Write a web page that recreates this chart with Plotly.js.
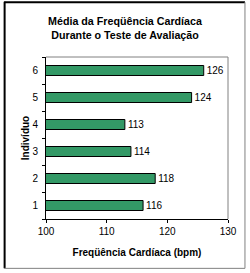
<!DOCTYPE html>
<html><head><meta charset="utf-8">
<script src="https://cdn.plot.ly/plotly-3.0.1.min.js"></script>
<style>html,body{margin:0;padding:0;background:#fff}#chart{width:250px;height:273px}</style>
</head><body><div id="chart"></div>
<script>
const individuos = ['1','2','3','4','5','6'];
const frequencia = [116, 118, 114, 113, 124, 126];
const titulo = 'Média da Freqüência Cardíaca<br>Durante o Teste de Avaliação';
const tituloX = 'Freqüência Cardíaca (bpm)';
const tituloY = 'Indivíduo';

const F = '"Liberation Sans", Arial, sans-serif';
const L = 46, R = 228.5, T = 56.5, B = 219;
const px = x => (x - L) / (R - L);
const py = y => (B - y) / (B - T);

const trace = {
  type: 'bar', orientation: 'h',
  y: individuos, x: frequencia,
  text: frequencia.map(String), textposition: 'outside', cliponaxis: false,
  constraintext: 'none',
  textfont: {family: F, size: 10, color: '#000'},
  marker: {color: '#339966', line: {color: '#000', width: 1}},
  hoverinfo: 'none'
};

const layout = {
  width: 250, height: 273,
  margin: {l: L, r: 250 - R, t: T, b: 273 - B, pad: 0},
  paper_bgcolor: '#fff', plot_bgcolor: '#fff',
  showlegend: false, bargap: 0.63,
  font: {family: F, size: 10, color: '#000'},
  title: {text: titulo, font: {family: F, size: 10.7, color: '#000', weight: 'bold'},
          x: 0.5, xref: 'container', y: 1 - 25/273, yref: 'container', yanchor: 'middle'},
  xaxis: {range: [100, 130], dtick: 10, tick0: 100, showgrid: false, zeroline: false,
          showline: true, linecolor: '#000', linewidth: 1, ticks: 'outside', ticklen: 3,
          tickcolor: '#000', tickfont: {family: F, size: 10, color: '#000'},
          title: {text: tituloX, font: {family: F, size: 10, color: '#000', weight: 'bold'}, standoff: 12},
          automargin: false, fixedrange: true},
  yaxis: {type: 'category', showgrid: false, zeroline: false,
          showline: true, linecolor: '#000', linewidth: 1, ticks: 'outside', ticklen: 3,
          tickson: 'boundaries', tickcolor: '#000', ticklabelstandoff: 5,
          tickfont: {family: F, size: 10, color: '#000'},
          title: {text: tituloY, font: {family: F, size: 10, color: '#000', weight: 'bold'}, standoff: 0},
          automargin: false, fixedrange: true},
  shapes: [
    {type: 'line', xref: 'paper', yref: 'paper', x0: 0, x1: 1, y0: 1, y1: 1, line: {color: '#808080', width: 1}},
    {type: 'line', xref: 'paper', yref: 'paper', x0: 1, x1: 1, y0: 0, y1: 1, line: {color: '#808080', width: 1}},
    {type: 'line', xref: 'paper', yref: 'paper', x0: px(4.5), x1: px(4.5), y0: py(1), y1: py(268.5), line: {color: '#000', width: 2}},
    {type: 'line', xref: 'paper', yref: 'paper', x0: px(4), x1: px(245.5), y0: py(1.5), y1: py(1.5), line: {color: '#000', width: 2}},
    {type: 'line', xref: 'paper', yref: 'paper', x0: px(245.5), x1: px(245.5), y0: py(1.5), y1: py(268.5), line: {color: '#808080', width: 1}},
    {type: 'line', xref: 'paper', yref: 'paper', x0: px(4), x1: px(245.5), y0: py(268.5), y1: py(268.5), line: {color: '#808080', width: 1}}
  ]
};

Plotly.newPlot('chart', [trace], layout, {displayModeBar: false, staticPlot: true});
</script></body></html>
